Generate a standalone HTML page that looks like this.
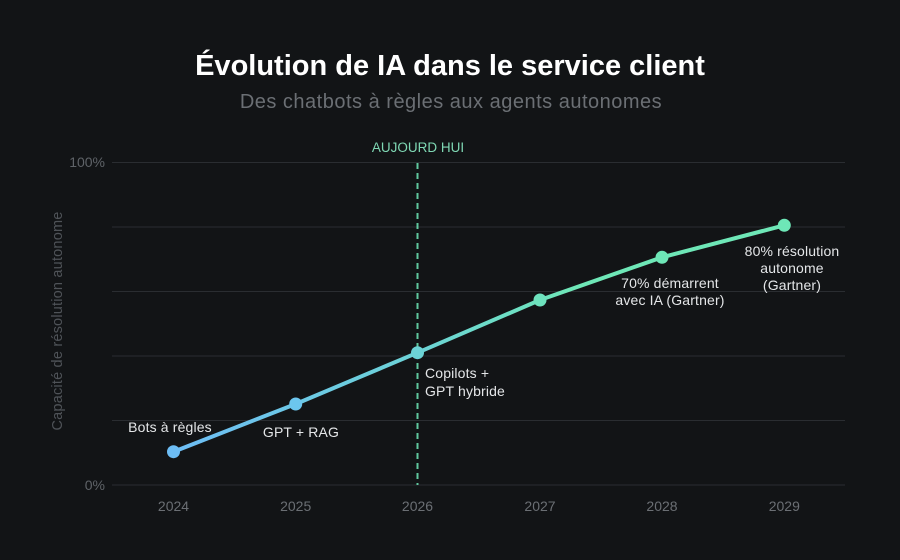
<!DOCTYPE html>
<html>
<head>
<meta charset="utf-8">
<style>
  html, body { margin:0; padding:0; background:#121416; }
  body { width:900px; height:560px; overflow:hidden; }
  svg { display:block; }
  text { font-family: "Liberation Sans", "DejaVu Sans", sans-serif; }
</style>
</head>
<body>
<svg width="900" height="560" viewBox="0 0 900 560" xmlns="http://www.w3.org/2000/svg">
  <defs>
    <linearGradient id="lg" gradientUnits="userSpaceOnUse" x1="173.5" y1="0" x2="784.5" y2="0">
      <stop offset="0" stop-color="#6dbdf5"/>
      <stop offset="0.4" stop-color="#6cd3d6"/>
      <stop offset="0.66" stop-color="#6ee7b7"/>
      <stop offset="1" stop-color="#6ee7b7"/>
    </linearGradient>
  </defs>
  <rect width="900" height="560" fill="#121416"/>

  <!-- Title -->
  <text x="450" y="75" text-anchor="middle" font-size="29" font-weight="bold" fill="#ffffff">Évolution de IA dans le service client</text>
  <text x="451" y="108" text-anchor="middle" font-size="20" letter-spacing="0.5" fill="#6b6f74">Des chatbots à règles aux agents autonomes</text>

  <!-- Grid -->
  <g stroke="#2a2d31" stroke-width="1">
    <line x1="112" y1="162.5" x2="845" y2="162.5"/>
    <line x1="112" y1="227" x2="845" y2="227"/>
    <line x1="112" y1="291.5" x2="845" y2="291.5"/>
    <line x1="112" y1="356" x2="845" y2="356"/>
    <line x1="112" y1="420.5" x2="845" y2="420.5"/>
    <line x1="112" y1="485" x2="845" y2="485"/>
  </g>

  <!-- Y tick labels -->
  <text x="105" y="167" text-anchor="end" font-size="14" fill="#5f6368">100%</text>
  <text x="105" y="490" text-anchor="end" font-size="14" fill="#5f6368">0%</text>

  <!-- Y axis title -->
  <text transform="translate(62,321) rotate(-90)" text-anchor="middle" font-size="14.5" letter-spacing="0.2" fill="#4f5358">Capacité de résolution autonome</text>

  <!-- X tick labels -->
  <g font-size="14" fill="#6b6f74" text-anchor="middle">
    <text x="173.5" y="511">2024</text>
    <text x="295.7" y="511">2025</text>
    <text x="417.5" y="511">2026</text>
    <text x="540" y="511">2027</text>
    <text x="662" y="511">2028</text>
    <text x="784.3" y="511">2029</text>
  </g>

  <!-- Today marker -->
  <line x1="417.5" y1="163" x2="417.5" y2="485" stroke="#6ee7b7" stroke-opacity="0.85" stroke-width="2" stroke-dasharray="6 4"/>
  <text x="418" y="152" text-anchor="middle" font-size="13.5" fill="#7fd8b4">AUJOURD HUI</text>

  <!-- Series -->
  <polyline points="173.5,451.7 295.7,404 417.5,352.7 540,300 662,257.3 784.3,225.3" fill="none" stroke="url(#lg)" stroke-width="4" stroke-linejoin="round" stroke-linecap="round"/>
  <g>
    <circle cx="173.5" cy="451.7" r="6.5" fill="#6dbdf5"/>
    <circle cx="295.7" cy="404" r="6.5" fill="#6cc6ee"/>
    <circle cx="417.5" cy="352.7" r="6.5" fill="#6cd3d6"/>
    <circle cx="540" cy="300" r="6.5" fill="#6ee3be"/>
    <circle cx="662" cy="257.3" r="6.5" fill="#6ee7b7"/>
    <circle cx="784.3" cy="225.3" r="6.5" fill="#6ee7b7"/>
  </g>

  <!-- Annotations -->
  <g font-size="14" letter-spacing="0.15" fill="#e4e6e8">
    <text x="170" y="432" text-anchor="middle">Bots à règles</text>
    <text x="301" y="437" text-anchor="middle">GPT + RAG</text>
    <text x="425" y="378">Copilots +</text>
    <text x="425" y="396">GPT hybride</text>
    <text x="670" y="288" text-anchor="middle">70% démarrent</text>
    <text x="670" y="305" text-anchor="middle">avec IA (Gartner)</text>
    <text x="792" y="256" text-anchor="middle">80% résolution</text>
    <text x="792" y="273" text-anchor="middle">autonome</text>
    <text x="792" y="290" text-anchor="middle">(Gartner)</text>
  </g>
</svg>
</body>
</html>
